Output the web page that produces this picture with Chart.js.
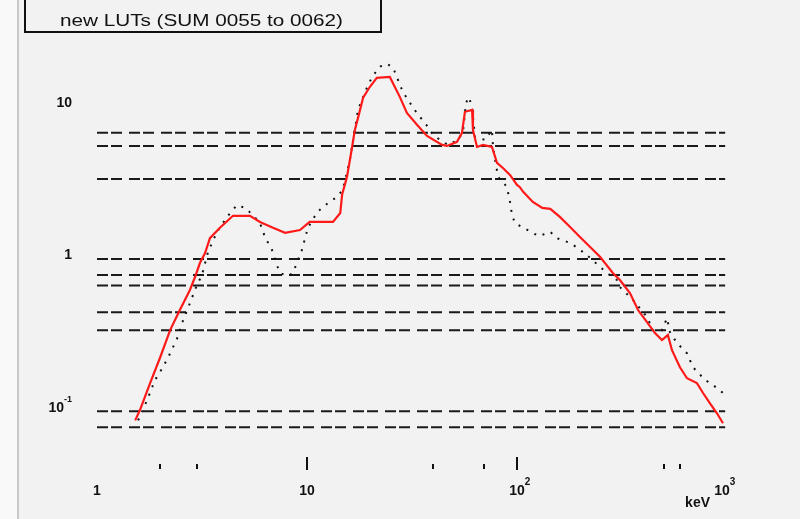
<!DOCTYPE html>
<html>
<head>
<meta charset="utf-8">
<script src="https://cdn.jsdelivr.net/npm/chart.js@4/dist/chart.umd.min.js"></script>
<style>
  html, body { margin: 0; padding: 0; background: #f2f2f2; }
  #wrap { width: 800px; height: 519px; }
</style>
</head>
<body>
<div id="wrap"><canvas id="spectrum" width="800" height="519"></canvas></div>
<script>
// red histogram (new LUTs)
const redKeV = [1.52, 1.60, 1.79, 2.00, 2.23, 2.48, 2.77, 2.93, 3.09, 3.27, 3.45, 3.85, 4.44, 5.35, 5.97,
  6.89, 7.86, 9.26, 10.3, 13.3, 14.4, 14.7, 15.5, 16.4, 16.9, 17.5, 18.5, 19.9, 21.5, 24.8, 26.2, 27.7,
  29.9, 33.4, 37.3, 44.0, 46.4, 51.8, 54.7, 56.5, 61.1, 61.7, 64.5, 68.9, 76.0, 80.3, 85.7, 92.6, 100,
  103, 107, 119, 132, 144, 160, 179, 200, 223, 249, 286, 309, 345, 377, 416, 454, 490, 523, 547, 597,
  645, 719, 769, 830, 896, 957]
const redCounts = [0.082, 0.0955, 0.144, 0.213, 0.321, 0.435, 0.589, 0.717, 0.886, 1.03, 1.29, 1.51, 1.81,
  1.81, 1.65, 1.51, 1.40, 1.46, 1.65, 1.65, 1.89, 2.5, 3.26, 5.13, 6.64, 7.96, 10.8, 12.7, 14.6, 14.8,
  12.7, 10.9, 8.59, 7.17, 6.06, 5.29, 5.21, 5.54, 6.35, 8.73, 8.99, 6.64, 5.13, 5.29, 5.13, 4.03, 3.73,
  3.36, 2.89, 2.80, 2.60, 2.23, 2.04, 2.01, 1.78, 1.53, 1.31, 1.13, 0.970, 0.762, 0.685, 0.562, 0.435,
  0.362, 0.307, 0.276, 0.298, 0.237, 0.183, 0.155, 0.144, 0.124, 0.106, 0.0913, 0.0785]

// black dotted histogram (reference)
const blackKeV = [1.57, 1.73, 1.89, 2.06, 2.23, 2.41, 2.57, 2.77, 2.99, 3.16, 3.38, 3.73, 4.16, 4.64, 5.07,
  5.53, 5.97, 6.31, 6.81, 7.19, 7.43, 8.12, 8.57, 9.46, 10.1, 11.2, 12.6, 13.9, 14.8, 16.0, 17.5, 18.9,
  20.4, 22.3, 24.0, 25.7, 27.1, 28.6, 30.9, 33.8, 36.5, 39.8, 43.0, 46.9, 52.4, 55.3, 57.2, 59.1, 61.1,
  63.1, 70.4, 76.0, 76.9, 81.2, 89.6, 92.6, 94.7, 97.8, 127, 144, 155, 179, 195, 215, 249, 268, 299, 309,
  357, 416, 444, 490, 518, 535, 578, 645, 689, 786, 858, 957]
const blackCounts = [0.082, 0.111, 0.151, 0.183, 0.226, 0.284, 0.373, 0.483, 0.635, 0.738, 1.05, 1.42, 1.78,
  2.13, 2.04, 1.83, 1.62, 1.31, 1.08, 0.859, 0.762, 0.728, 0.762, 1.08, 1.51, 1.92, 2.20, 2.41, 2.68,
  4.22, 8.99, 11.8, 14.8, 17.3, 18.1, 17.0, 14.2, 11.8, 10.0, 8.34, 7.38, 6.16, 5.71, 5.29, 5.71, 6.45,
  10.0, 10.9, 9.27, 5.97, 5.71, 6.64, 5.13, 3.26, 2.80, 2.23, 1.83, 1.62, 1.33, 1.42, 1.29, 1.20, 1.11,
  1.00, 0.834, 0.762, 0.685, 0.616, 0.506, 0.391, 0.321, 0.321, 0.385, 0.311, 0.264, 0.226, 0.183, 0.151,
  0.140, 0.124]

// dashed horizontal levels
const levelValues = [6.35, 5.21, 3.16, 0.94, 0.74, 0.63, 0.42, 0.32, 0.094, 0.074]
const levelSpan = [1.0, 980]

// axis decorations
const xMajorTicks = [10, 100]
const xMinorTicks = [2, 3, 40, 70, 500, 600]
const xTickLabels = [[1, '1', ''], [10, '10', ''], [100, '10', '2'], [1000, '10', '3']]
const yTickLabels = [[10, '10', ''], [1, '1', ''], [0.1, '10', '-1']]
const titleText = 'new LUTs (SUM 0055 to 0062)'
const xUnit = 'keV'

const toPoints = (xs, ys) => xs.map((x, i) => ({ x: x, y: ys[i] }))

const levelSets = levelValues.map(v => ({
  data: levelSpan.map(x => ({ x: x, y: v })),
  borderColor: '#1a1a1a',
  borderWidth: 2,
  borderDash: [11, 3, 11, 7],
  pointRadius: 0,
  showLine: true
}))

const frame = {
  id: 'frame',
  beforeDraw(chart) {
    const ctx = chart.ctx
    ctx.save()
    ctx.fillStyle = '#f2f2f2'
    ctx.fillRect(0, 0, chart.width, chart.height)
    ctx.fillStyle = '#f9f9f9'
    ctx.fillRect(0, 0, 17, chart.height)
    ctx.fillStyle = '#c9c9c9'
    ctx.fillRect(17, 0, 2, chart.height)
    ctx.restore()
  },
  afterDraw(chart) {
    const ctx = chart.ctx
    const xs = chart.scales.x
    const ys = chart.scales.y
    ctx.save()
    ctx.fillStyle = '#111'
    ctx.strokeStyle = '#111'

    // title box
    ctx.lineWidth = 2
    ctx.beginPath()
    ctx.moveTo(25, 0)
    ctx.lineTo(25, 32)
    ctx.lineTo(381, 32)
    ctx.lineTo(381, 0)
    ctx.stroke()
    ctx.font = '16px "Liberation Sans"'
    ctx.textBaseline = 'middle'
    ctx.textAlign = 'left'
    const w = ctx.measureText(titleText).width
    ctx.save()
    ctx.translate(60, 22)
    ctx.scale(283 / w, 1)
    ctx.fillText(titleText, 0, 0)
    ctx.restore()

    // x ticks
    ctx.lineWidth = 2
    xMajorTicks.forEach(v => {
      const px = Math.round(xs.getPixelForValue(v))
      ctx.beginPath()
      ctx.moveTo(px, 457)
      ctx.lineTo(px, 470)
      ctx.stroke()
    })
    xMinorTicks.forEach(v => {
      const px = Math.round(xs.getPixelForValue(v))
      ctx.beginPath()
      ctx.moveTo(px, 464)
      ctx.lineTo(px, 469)
      ctx.stroke()
    })

    // x labels
    ctx.font = 'bold 14px "Liberation Sans"'
    xTickLabels.forEach(([v, base, sup]) => {
      const px = Math.min(xs.getPixelForValue(v), 722)
      ctx.textAlign = 'center'
      ctx.fillText(base, px, 491)
      if (sup) {
        const bw = ctx.measureText(base).width
        ctx.font = 'bold 10px "Liberation Sans"'
        ctx.textAlign = 'left'
        ctx.fillText(sup, px + bw / 2, 482)
        ctx.font = 'bold 14px "Liberation Sans"'
      }
    })
    ctx.textAlign = 'right'
    ctx.fillText(xUnit, 710, 503)

    // y labels
    yTickLabels.forEach(([v, base, sup]) => {
      const py = ys.getPixelForValue(v)
      ctx.font = 'bold 14px "Liberation Sans"'
      if (sup) {
        ctx.textAlign = 'right'
        ctx.fillText(base, 64, py + 1)
        ctx.font = 'bold 9px "Liberation Sans"'
        ctx.textAlign = 'left'
        ctx.fillText(sup, 64, py - 8)
      } else {
        ctx.textAlign = 'right'
        ctx.fillText(base, 72, py)
      }
    })
    ctx.restore()
  }
}

new Chart(document.getElementById('spectrum'), {
  type: 'scatter',
  data: {
    datasets: [
      {
        data: toPoints(redKeV, redCounts),
        borderColor: '#ff1a1a',
        borderWidth: 2.2,
        pointRadius: 0,
        showLine: true
      },
      {
        data: toPoints(blackKeV, blackCounts),
        borderColor: '#111',
        borderWidth: 2,
        borderDash: [2, 7],
        pointRadius: 0,
        showLine: true
      },
      ...levelSets
    ]
  },
  options: {
    responsive: false,
    devicePixelRatio: 1,
    animation: false,
    layout: { padding: { left: 97, right: 73, top: 57, bottom: 78 } },
    plugins: {
      legend: { display: false },
      tooltip: { enabled: false }
    },
    scales: {
      x: { type: 'logarithmic', min: 1, max: 1000, display: false },
      y: { type: 'logarithmic', min: 0.06, max: 20, display: false }
    }
  },
  plugins: [frame]
})
</script>
</body>
</html>
